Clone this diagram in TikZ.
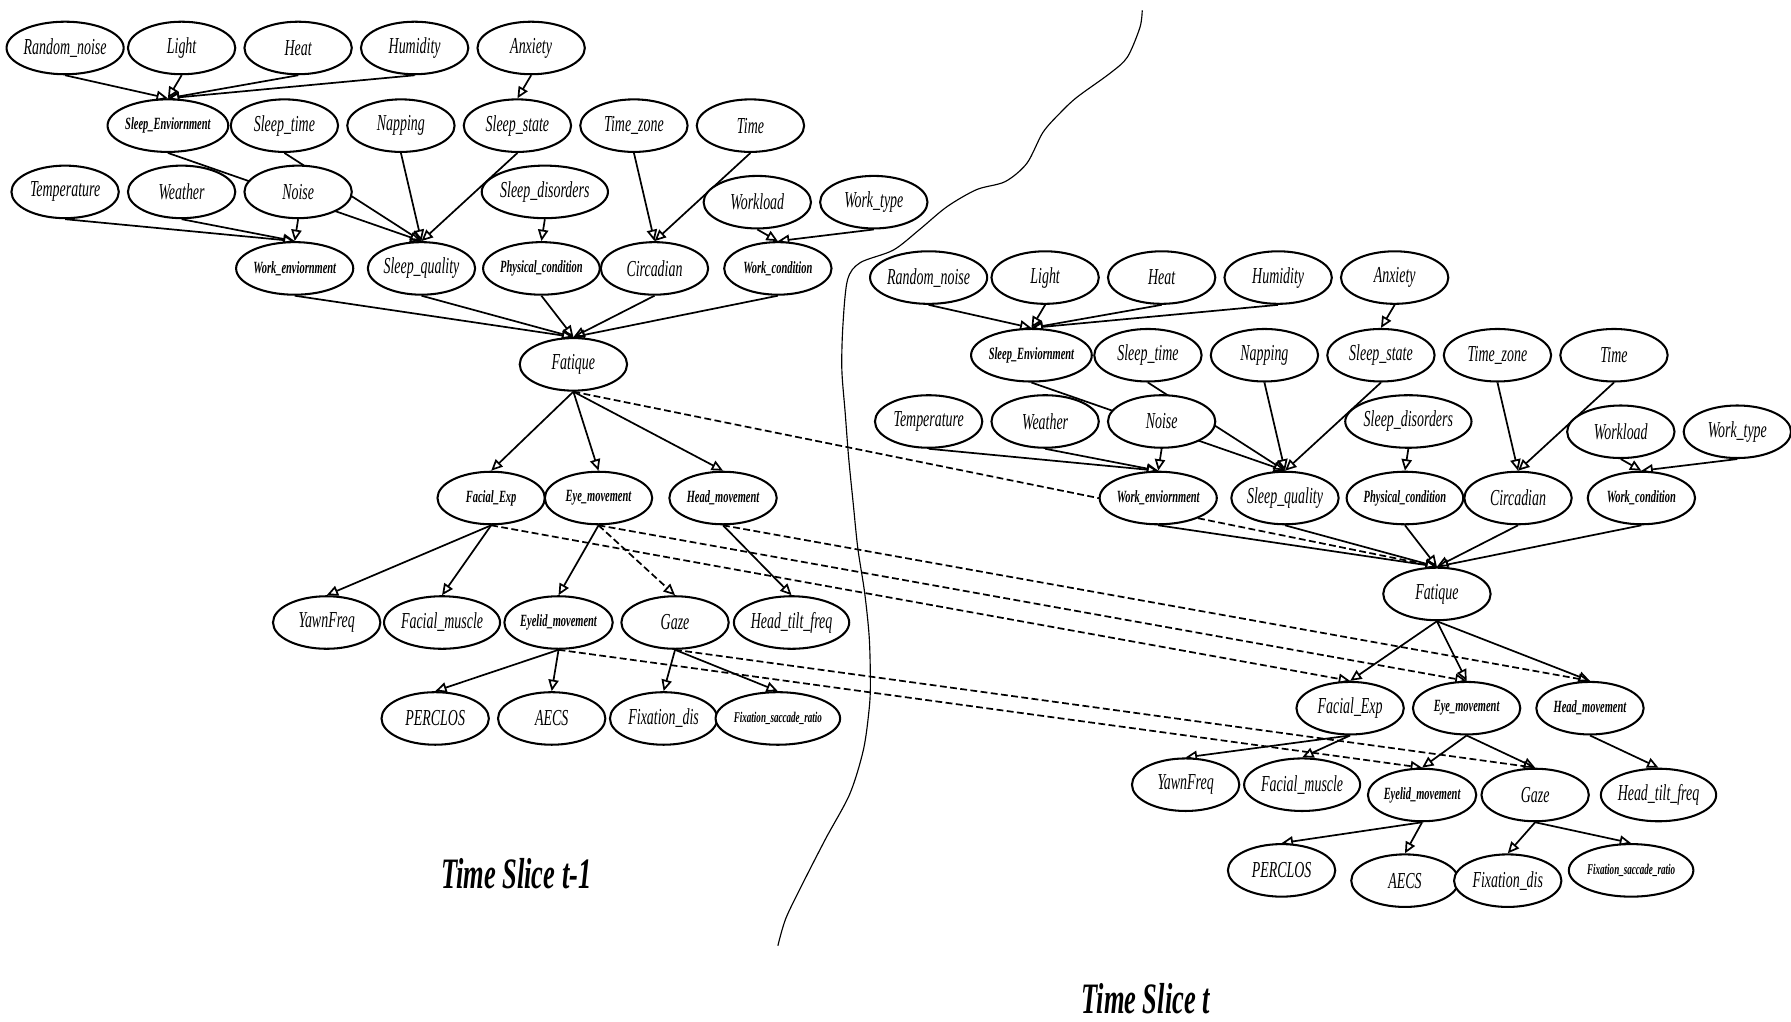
\documentclass[tikz,border=0pt]{standalone}
\usepackage{fontspec}
\newfontfamily\netfont[FakeStretch=0.61]{Liberation Serif}
\usetikzlibrary{shapes.geometric,arrows.meta,backgrounds}

\tikzset{
  var/.style={ellipse, draw, line width=0.9pt, fill=white, minimum width=47pt, minimum height=23pt, inner sep=0pt, font=\netfont\itshape\fontsize{10}{12}\selectfont},
  varsm/.style={var, font=\netfont\bfseries\itshape\fontsize{7.5}{9}\selectfont},
  vartn/.style={var, font=\netfont\bfseries\itshape\fontsize{6.5}{8}\selectfont},
  dep/.style={line width=0.75pt, -{Triangle[open,length=5pt,width=4.5pt]}},
  tdep/.style={dep, dash pattern=on 3pt off 1.5pt},
  slicettl/.style={font=\netfont\bfseries\itshape\fontsize{19}{23}\selectfont}
}

\begin{document}
\begin{tikzpicture}[x=0.5pt,y=-0.5pt]
	\useasboundingbox (0,0) rectangle (1568,894);
	% time slice t-1
	\node[var] (rnoiseL) at (57,42) {Random\_noise};
	\node[var] (lightL) at (159,42) {Light};
	\node[var] (heatL) at (261,42) {Heat};
	\node[var] (humidL) at (363,42) {Humidity};
	\node[var] (anxL) at (465,42) {Anxiety};
	\node[varsm] (senvL) at (147,110) {Sleep\_Enviornment};
	\node[var] (stimeL) at (249,110) {Sleep\_time};
	\node[var] (napL) at (351,110) {Napping};
	\node[var] (sstateL) at (453,110) {Sleep\_state};
	\node[var] (tzoneL) at (555,110) {Time\_zone};
	\node[var] (timeL) at (657,110) {Time};
	\node[var] (tempL) at (57,168) {Temperature};
	\node[var] (weathL) at (159,168) {Weather};
	\node[var] (noiseL) at (261,168) {Noise};
	\node[var] (sdisL) at (477,168) {Sleep\_disorders};
	\node[var] (wloadL) at (663,177) {Workload};
	\node[var] (wtypeL) at (765,177) {Work\_type};
	\node[varsm] (wenvL) at (258,235) {Work\_enviornment};
	\node[var] (squalL) at (369,235) {Sleep\_quality};
	\node[varsm] (physL) at (474,235) {Physical\_condition};
	\node[var] (circL) at (573,235) {Circadian};
	\node[varsm] (wcondL) at (681,235) {Work\_condition};
	\node[var] (fatL) at (502,319) {Fatique};
	\node[varsm] (facL) at (430,436) {Facial\_Exp};
	\node[varsm] (eyeL) at (524,436) {Eye\_movement};
	\node[varsm] (headL) at (633,436) {Head\_movement};
	\node[var] (yawnL) at (286,545) {YawnFreq};
	\node[var] (fmusL) at (387,545) {Facial\_muscle};
	\node[varsm] (lidL) at (489,545) {Eyelid\_movement};
	\node[var] (gazeL) at (591,545) {Gaze};
	\node[var] (tiltL) at (693,545) {Head\_tilt\_freq};
	\node[var] (percL) at (381,629) {PERCLOS};
	\node[var] (aecsL) at (483,629) {AECS};
	\node[var] (fixL) at (581,629) {Fixation\_dis};
	\node[vartn] (ratioL) at (681,629) {Fixation\_saccade\_ratio};
	% time slice t
	\node[var] (rnoiseR) at (813,243) {Random\_noise};
	\node[var] (lightR) at (915,243) {Light};
	\node[var] (heatR) at (1017,243) {Heat};
	\node[var] (humidR) at (1119,243) {Humidity};
	\node[var] (anxR) at (1221,243) {Anxiety};
	\node[varsm] (senvR) at (903,311) {Sleep\_Enviornment};
	\node[var] (stimeR) at (1005,311) {Sleep\_time};
	\node[var] (napR) at (1107,311) {Napping};
	\node[var] (sstateR) at (1209,311) {Sleep\_state};
	\node[var] (tzoneR) at (1311,311) {Time\_zone};
	\node[var] (timeR) at (1413,311) {Time};
	\node[var] (tempR) at (813,369) {Temperature};
	\node[var] (weathR) at (915,369) {Weather};
	\node[var] (noiseR) at (1017,369) {Noise};
	\node[var] (sdisR) at (1233,369) {Sleep\_disorders};
	\node[var] (wloadR) at (1419,378) {Workload};
	\node[var] (wtypeR) at (1521,378) {Work\_type};
	\node[varsm] (wenvR) at (1014,436) {Work\_enviornment};
	\node[var] (squalR) at (1125,436) {Sleep\_quality};
	\node[varsm] (physR) at (1230,436) {Physical\_condition};
	\node[var] (circR) at (1329,436) {Circadian};
	\node[varsm] (wcondR) at (1437,436) {Work\_condition};
	\node[var] (fatR) at (1258,520) {Fatique};
	\node[var] (facR) at (1182,620) {Facial\_Exp};
	\node[varsm] (eyeR) at (1284,620) {Eye\_movement};
	\node[varsm] (headR) at (1392,620) {Head\_movement};
	\node[var] (yawnR) at (1038,687) {YawnFreq};
	\node[var] (fmusR) at (1140,687) {Facial\_muscle};
	\node[varsm] (lidR) at (1245,696) {Eyelid\_movement};
	\node[var] (gazeR) at (1344,696) {Gaze};
	\node[var] (tiltR) at (1452,696) {Head\_tilt\_freq};
	\node[var] (percR) at (1122,762) {PERCLOS};
	\node[var] (aecsR) at (1230,771) {AECS};
	\node[var] (fixR) at (1320,771) {Fixation\_dis};
	\node[vartn] (ratioR) at (1428,762) {Fixation\_saccade\_ratio};

	\begin{scope}[on background layer]
		\foreach \s in {L,R}{
			\foreach \a/\b in {rnoise/senv, light/senv, heat/senv, humid/senv, anx/sstate,
				senv/squal, stime/squal, nap/squal, sstate/squal, temp/wenv, weath/wenv, noise/wenv,
				sdis/phys, tzone/circ, time/circ, wload/wcond, wtype/wcond,
				wenv/fat, squal/fat, phys/fat, circ/fat, wcond/fat, fat/fac, fat/eye, fat/head,
				fac/yawn, fac/fmus, eye/lid, head/tilt, lid/perc, lid/aecs, gaze/fix, gaze/ratio}
				\draw[dep] (\a\s.south) -- (\b\s.north);
		}
		\draw[tdep] (eyeL.south) -- (gazeL.north);
		\draw[dep] (eyeR.south) -- (gazeR.north);
		% links between the slices
		\foreach \a in {fat, fac, eye, head, lid, gaze}
			\draw[tdep] (\a L.south) -- (\a R.north);
	\end{scope}

	\draw[line width=0.5pt] plot[smooth] coordinates {(1000,9) (998,24) (987,50) (972,64) (943,85) (928,99) (913,116) (899,143) (880,159) (855,166) (829,181) (805,201) (782,219) (753,230) (742,245) (738,284) (737,323) (740,362) (743,401) (747,441) (751,480) (757,519) (761,558) (762,597) (761,620) (756,656) (744,695) (723,734) (703,773) (688,804) (681,828)};

	\node[slicettl] (ttlL) at (452,765) {Time Slice t-1};
	\node[slicettl] (ttlR) at (1003,874) {Time Slice t};
\end{tikzpicture}
\end{document}
